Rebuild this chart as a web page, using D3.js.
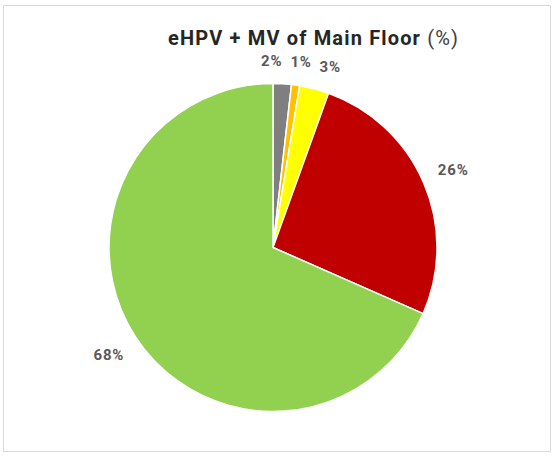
<!DOCTYPE html>
<html>
<head>
<meta charset="utf-8">
<script src="https://cdn.jsdelivr.net/npm/d3@7"></script>
<style>
  html, body { margin: 0; padding: 0; background: #fff; }
  svg { display: block; }
</style>
</head>
<body>
<svg id="chart" width="560" height="457"></svg>
<script>
const categories = ["Gray", "Orange", "Yellow", "Red", "Green"];
const values = [1.8, 0.8, 2.9, 26.1, 68.4];
const colors = ["#7f7f7f", "#ffc000", "#ffff00", "#c00000", "#92d050"];
const titleMain = "eHPV + MV of Main Floor ";
const titleUnit = "(%)";

const svg = d3.select("#chart");

// frame
svg.append("rect")
  .attr("x", 3.5).attr("y", 5.5).attr("width", 547).attr("height", 446)
  .attr("fill", "#fff").attr("stroke", "#d9d9d9").attr("stroke-width", 1);

// title
const title = svg.append("text")
  .attr("x", 313).attr("y", 45)
  .attr("text-anchor", "middle")
  .attr("font-family", "Roboto, 'Liberation Sans', Arial, sans-serif")
  .attr("font-size", 20)
  .attr("fill", "#262626");
title.append("tspan").attr("font-weight", "bold").text(titleMain);
title.append("tspan").attr("font-weight", "normal").attr("fill", "#404040").text(titleUnit);
title.attr("textLength", 290).attr("lengthAdjust", "spacing");

const cx = 273, cy = 247.5, r = 164;
const data = categories.map((c, i) => ({ cat: c, value: values[i], color: colors[i] }));
const pie = d3.pie().value(d => d.value).sort(null).startAngle(0).endAngle(2 * Math.PI);
const arcs = pie(data);
const arc = d3.arc().innerRadius(0).outerRadius(r);

const g = svg.append("g").attr("transform", `translate(${cx},${cy})`);
g.selectAll("path.slice").data(arcs).enter().append("path")
  .attr("class", "slice")
  .attr("d", arc)
  .attr("fill", d => d.data.color)
  .attr("stroke", "#fff")
  .attr("stroke-width", 1.5)
  .attr("stroke-linejoin", "round");

// labels: outside end, with angular spreading for crowded small slices
const labels = arcs.map(d => ({
  text: Math.round(d.data.value) + "%",
  angle: (d.startAngle + d.endAngle) / 2
}));
const minSep = 9 * Math.PI / 180;
let groups = [];
labels.forEach(l => {
  const last = groups.length ? groups[groups.length - 1] : null;
  if (last && l.angle - last[last.length - 1].angle < minSep) last.push(l);
  else groups.push([l]);
});
groups.forEach(gr => {
  if (gr.length < 2) return;
  const mean0 = d3.mean(gr, l => l.angle);
  const pos = [gr[0].angle];
  for (let i = 1; i < gr.length; i++) pos.push(Math.max(gr[i].angle, pos[i - 1] + minSep));
  const shift = mean0 - d3.mean(pos);
  gr.forEach((l, i) => l.angle = pos[i] + shift);
});

const fontSize = 15;
const lab = g.selectAll("text.lbl").data(labels).enter().append("text")
  .attr("class", "lbl")
  .attr("text-anchor", "middle")
  .attr("dominant-baseline", "central")
  .attr("font-family", "Roboto, 'Liberation Sans', Arial, sans-serif")
  .attr("font-weight", "bold")
  .attr("font-size", fontSize)
  .attr("letter-spacing", 0.8)
  .attr("fill", "#595959")
  .text(d => d.text);

lab.each(function(d) {
  const w = this.getComputedTextLength();
  const h = fontSize;
  const s = Math.sin(d.angle), c = Math.cos(d.angle);
  const dist = r + 15 + Math.abs(s) * w / 2 + Math.abs(c) * h / 2;
  d3.select(this).attr("x", s * dist).attr("y", -c * dist);
});
</script>
</body>
</html>
